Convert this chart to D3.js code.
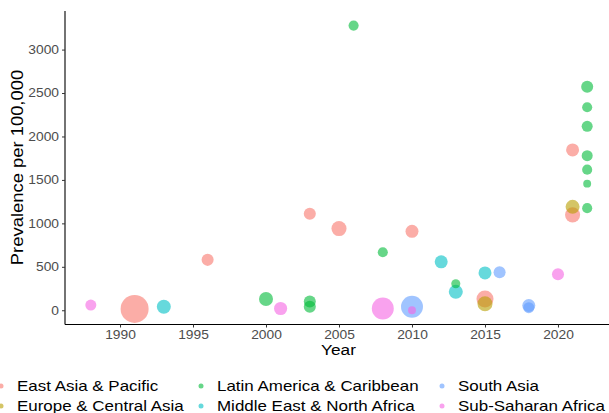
<!DOCTYPE html>
<html>
<head>
<meta charset="utf-8">
<script src="https://cdn.jsdelivr.net/npm/d3@7"></script>
<style>
  body { margin: 0; background: #fff; }
  svg { font-family: "Liberation Sans", Arial, sans-serif; }
</style>
</head>
<body>
<svg id="chart" width="609" height="413"></svg>
<script>
// regions, in legend order
let regions = ["East Asia & Pacific", "Europe & Central Asia", "Latin America & Caribbean",
               "Middle East & North Africa", "South Asia", "Sub-Saharan Africa"];
let regionColors = ["#F8766D", "#B79F00", "#00BA38", "#00BFC4", "#619CFF", "#F564E3"];

// one entry per study
let years  = [1988, 1991, 1993, 1996, 2000, 2001, 2003, 2003, 2003, 2005, 2006, 2008, 2008, 2010, 2010, 2010,
              2012, 2013, 2013, 2015, 2015, 2015, 2016, 2018, 2018, 2020, 2021, 2021, 2021,
              2022, 2022, 2022, 2022, 2022, 2022, 2022];
let prevalence = [60, 15, 40, 580, 130, 20, 100, 40, 1110, 940, 3276, 667, 20, 908, 40, 0,
              557, 305, 212, 130, 75, 430, 437, 55, 30, 414, 1098, 1845, 1190,
              2572, 2336, 2117, 1779, 1618, 1457, 1175];
let region = [5, 0, 3, 0, 2, 5, 2, 2, 0, 0, 2, 2, 5, 0, 4, 5,
              3, 2, 3, 0, 1, 3, 4, 4, 4, 5, 0, 0, 1,
              2, 2, 2, 2, 2, 2, 2];
let sampleSize = [3100, 20000, 5000, 3700, 5000, 4400, 3700, 3700, 3700, 5800, 2600, 2600, 12300, 4300, 12300, 1600,
              4300, 2100, 5000, 7400, 5800, 4300, 3700, 4300, 3100, 3700, 5800, 4300, 5000,
              3700, 2600, 3100, 3100, 2600, 1600, 2600];
let xTicks = [1990, 1995, 2000, 2005, 2010, 2015, 2020];
let yTicks = [0, 500, 1000, 1500, 2000, 2500, 3000];

let data = years.map((y, i) => ({year: y, prev: prevalence[i], reg: region[i], n: sampleSize[i]}));

let svg = d3.select("#chart");
let stretch = 1.15; // text in the reference is a bit wider than Liberation Sans

let xMap = d3.scaleLinear().domain([1986.3, 2023.7]).range([66, 612]);
let yMap = d3.scaleLinear().domain([-164, 3444]).range([324.5, 11]);
let rMap = d3.scaleSqrt().domain([0, 20000]).range([0, 14]);

// points, biggest first so small ones stay visible
let sorted = data.slice().sort((a, b) => b.n - a.n);
svg.append("g").selectAll("circle").data(sorted).enter().append("circle")
    .attr("cx", d => xMap(d.year))
    .attr("cy", d => yMap(d.prev))
    .attr("r", d => rMap(d.n))
    .attr("fill", d => regionColors[d.reg])
    .attr("fill-opacity", 0.6);

// axes
let xAxis = svg.append("g")
    .attr("transform", "translate(0,324.5)")
    .call(d3.axisBottom(xMap).tickValues(xTicks)
        .tickFormat(d3.format("d")).tickSizeOuter(0).tickSize(3));
xAxis.select(".domain").attr("d", "M65,0H609").attr("stroke", "#000").attr("stroke-width", 1.1);

let yAxis = svg.append("g")
    .attr("transform", "translate(65,0)")
    .call(d3.axisLeft(yMap).tickValues(yTicks)
        .tickFormat(d3.format("d")).tickSizeOuter(0).tickSize(3));
yAxis.select(".domain").attr("d", "M0,11V324.5").attr("stroke", "#000").attr("stroke-width", 1.1);

svg.selectAll(".tick line").attr("stroke", "#333");
svg.selectAll(".tick text").attr("fill", "#4D4D4D").style("font-size", "12px")
    .style("font-family", "Liberation Sans, Arial, sans-serif")
    .attr("transform", `scale(${stretch},1)`);
xAxis.selectAll(".tick text").attr("dy", null).attr("y", 14.8);
yAxis.selectAll(".tick text").attr("x", -6 / stretch);

// axis titles
svg.append("text").attr("transform", `translate(338.5,354.5) scale(${stretch},1)`)
    .attr("text-anchor", "middle").style("font-size", "15px").text("Year");
svg.append("text").attr("transform", `translate(23,167.5) rotate(-90) scale(${stretch},1)`)
    .attr("text-anchor", "middle").style("font-size", "16px").text("Prevalence per 100,000");

// legend, 2 rows x 3 columns (column-major)
let colX = [1, 201, 442];
let rowY = [386, 406];
let legend = svg.append("g");
regions.forEach((name, i) => {
    let c = Math.floor(i / 2), r = i % 2;
    legend.append("circle").attr("cx", colX[c]).attr("cy", rowY[r]).attr("r", 2.5)
        .attr("fill", regionColors[i]).attr("fill-opacity", 0.6);
    legend.append("text")
        .attr("transform", `translate(${colX[c] + 16},${rowY[r]}) scale(1.13,1)`)
        .attr("dy", "0.35em")
        .style("font-size", "15px").text(name);
});
</script>
</body>
</html>
